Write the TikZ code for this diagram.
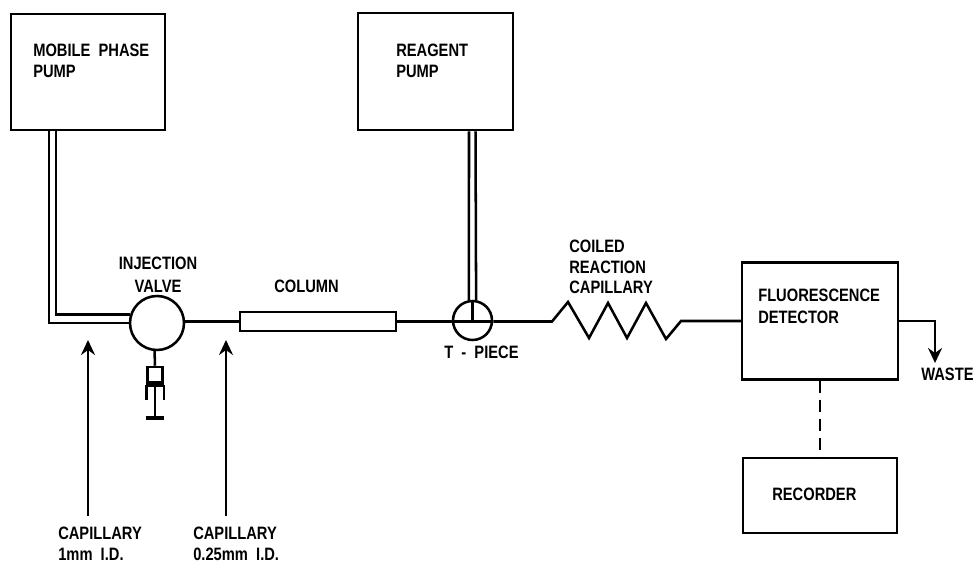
\documentclass[tikz,border=0pt]{standalone}
\usepackage{fontspec}
\usepackage{tikz}
\usetikzlibrary{arrows.meta}
\setmainfont[FakeStretch=0.82]{Liberation Sans}

\begin{document}
\begin{tikzpicture}[line width=0.72pt,
    unit/.style={rectangle, draw, inner sep=0pt},
    joint/.style={circle, draw, inner sep=0pt},
    caption/.style={inner sep=0pt, anchor=base west, align=left,
      font=\fontsize{5.1}{6.1}\selectfont\bfseries},
    tip/.style={-{Stealth[length=0.15cm, width=0.14cm, inset=0.05cm]}}]
    \useasboundingbox (0,0) rectangle (9.74,5.6);

    \node[unit, minimum width=1.54cm, minimum height=1.16cm] (mobile) at (0.88,4.88) {};
    \node[unit, minimum width=1.55cm, minimum height=1.17cm] (reagent) at (4.355,4.885) {};
    \node[joint, minimum size=0.54cm] (valve) at (1.57,2.37) {};
    \node[unit, minimum width=1.56cm, minimum height=0.19cm] (column) at (3.18,2.385) {};
    \node[joint, minimum size=0.39cm] (tpiece) at (4.725,2.395) {};
    \node[unit, minimum width=1.56cm, minimum height=1.17cm] (detector) at (8.20,2.39) {};
    \node[unit, minimum width=1.54cm, minimum height=0.75cm] (recorder) at (8.20,0.645) {};
    \node[unit, minimum width=0.15cm, minimum height=0.15cm] (barrel) at (1.55,1.855) {};

    \node[caption] (mobiletext) at (0.32,5.03) {MOBILE\ \ PHASE};
    \node[caption] (mobiletext2) at (0.32,4.82) {PUMP};
    \node[caption] (reagenttext) at (3.95,5.03) {REAGENT};
    \node[caption] (reagenttext2) at (3.95,4.82) {PUMP};
    \node[caption, anchor=base] (valvetext) at (1.58,2.90) {INJECTION};
    \node[caption, anchor=base] (valvetext2) at (1.58,2.68) {VALVE};
    \node[caption] (columntext) at (2.73,2.68) {COLUMN};
    \node[caption] (tpiecetext) at (4.43,2.02) {T\ \ -\ \ PIECE};
    \node[caption] (coiltext) at (5.68,3.08) {COILED};
    \node[caption] (coiltext2) at (5.68,2.87) {REACTION};
    \node[caption] (coiltext3) at (5.68,2.66) {CAPILLARY};
    \node[caption] (detectortext) at (7.57,2.59) {FLUORESCENCE};
    \node[caption] (detectortext2) at (7.57,2.37) {DETECTOR};
    \node[caption] (recordertext) at (7.71,0.60) {RECORDER};
    \node[caption] (waste) at (9.20,1.80) {WASTE};
    \node[caption] (captext) at (0.57,0.21) {CAPILLARY};
    \node[caption] (captext2) at (0.57,0.00) {1mm\ \ I.D.};
    \node[caption] (thintext) at (1.92,0.21) {CAPILLARY};
    \node[caption] (thintext2) at (1.92,0.00) {0.25mm\ \ I.D.};

    \coordinate (wasteend) at (9.35,1.97);
    \coordinate (capfoot) at (0.88,0.44);
    \coordinate (captip) at (0.88,2.20);
    \coordinate (thinfoot) at (2.26,0.44);
    \coordinate (thintip) at (2.26,2.20);
    \coordinate (plunger) at (1.55,1.42);

    % double tubing from the pumps
    \draw ([xshift=-0.39cm]mobile.south) |- (valve.west);
    \draw ([xshift=-0.32cm]mobile.south) |- (valve.163);
    \draw ([xshift=0.335cm]reagent.south) -- (tpiece.100);
    \draw ([xshift=0.40cm]reagent.south) -- (tpiece.80);

    \draw (valve.east |- column.west) -- (column.west);
    \draw (column.east) -- (tpiece.east |- column.east);
    \draw (tpiece.north) -- (tpiece.center);
    \draw (tpiece.east |- column.east) -- (5.52,2.385) -- (5.68,2.58) -- (5.89,2.22) -- (6.08,2.57)
      -- (6.27,2.22) -- (6.46,2.57) -- (6.66,2.21) -- (6.81,2.39) -- (detector.west);
    \draw[tip] (detector.east) -| (wasteend);
    \draw[dash pattern=on 3.4pt off 2pt] (detector.south) -- (recorder.north);

    % syringe
    \draw (valve.265) -- (barrel.north);
    \draw[line width=1.2pt] ([yshift=-0.02cm]barrel.south west) -- ([yshift=-0.02cm]barrel.south east);
    \draw ([yshift=-0.02cm]barrel.south west) -- ++(0,-0.15);
    \draw ([yshift=-0.02cm]barrel.south east) -- ++(0,-0.15);
    \draw (barrel.south) -- (plunger);
    \draw[line width=0.9pt] ([xshift=-0.09cm]plunger) -- ([xshift=0.09cm]plunger);

    \draw[tip] (capfoot) -- (captip);
    \draw[tip] (thinfoot) -- (thintip);
\end{tikzpicture}
\end{document}
